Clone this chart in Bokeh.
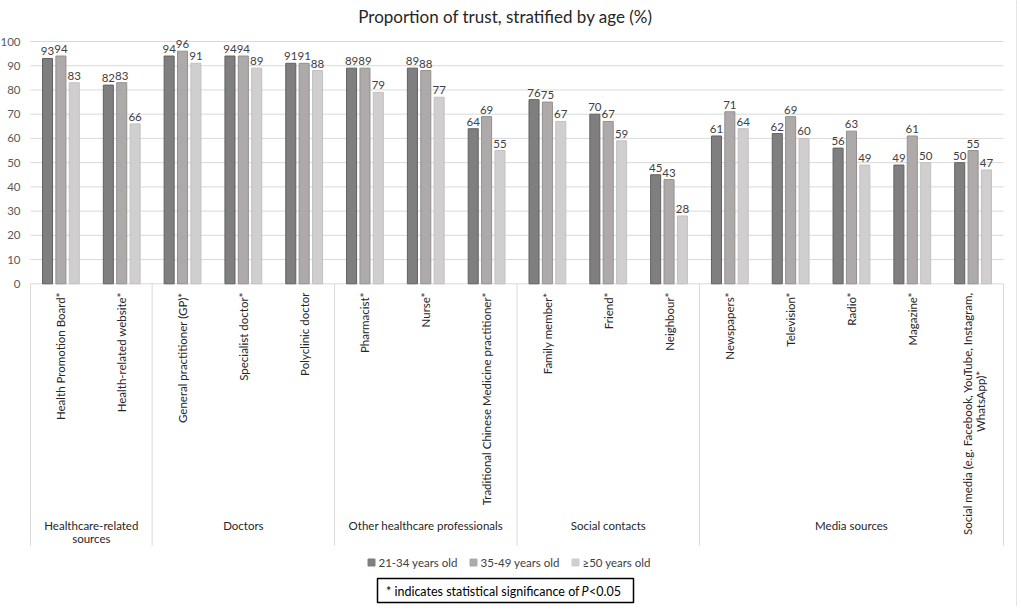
import math
from bokeh.plotting import figure
from bokeh.models import ColumnDataSource
from bokeh.core.properties import value
from bokeh.embed import file_html
from bokeh.resources import INLINE

# ---------------- data ----------------
title_text = "Proportion of trust, stratified by age (%)"
categories = [
    "Health Promotion Board*", "Health-related website*",
    "General practitioner (GP)*", "Specialist doctor*", "Polyclinic doctor",
    "Pharmacist*", "Nurse*", "Traditional Chinese Medicine practitioner*",
    "Family member*", "Friend*", "Neighbour*",
    "Newspapers*", "Television*", "Radio*", "Magazine*",
    "Social media (e.g. Facebook, YouTube, Instagram,\nWhatsApp)*",
]
groups = ["Healthcare-related\nsources", "Doctors", "Other healthcare professionals",
          "Social contacts", "Media sources"]
group_sizes = [2, 3, 3, 3, 5]
series_names = ["21-34 years old", "35-49 years old", "\u226550 years old"]
age_21_34 = [93, 82, 94, 94, 91, 89, 89, 64, 76, 70, 45, 61, 62, 56, 49, 50]
age_35_49 = [94, 83, 96, 94, 91, 89, 88, 69, 75, 67, 43, 71, 69, 63, 61, 55]
age_50_plus = [83, 66, 91, 89, 88, 79, 77, 55, 67, 59, 28, 64, 60, 49, 50, 47]
y_ticks = list(range(0, 101, 10))
note_parts = ["* indicates statistical significance of", "P", "<0.05"]

# ---------------- layout helpers ----------------
W, H = 1018, 606
PAGE_OFF = 1
PLOT_L, PLOT_R = 31.0, 1004.0
Y0_PX, PX_PER_Y = 284.3, 2.423
n = len(categories)
px_per_cat = (PLOT_R - PLOT_L) / n


def ux(xp):
    return (xp - PLOT_L) / px_per_cat


def vy(yp):
    return (Y0_PX - yp) / PX_PER_Y


FONT = value("Lato")

p = figure(width=W, height=H,
           x_range=(ux(PAGE_OFF), ux(PAGE_OFF + W)),
           y_range=(vy(PAGE_OFF + H), vy(PAGE_OFF)),
           output_backend="svg", toolbar_location=None,
           x_axis_location=None, y_axis_location=None, min_border=0)
p.grid.visible = False
p.outline_line_color = None
p.background_fill_color = "white"
p.border_fill_color = "white"

# chart border on the right
p.segment(x0=[ux(1017)], y0=[vy(0)], x1=[ux(1017)], y1=[vy(620)],
          line_color="#e3e3e3", line_width=1)

# gridlines
grid_src = ColumnDataSource(dict(x0=[ux(PLOT_L)] * len(y_ticks), x1=[ux(PLOT_R)] * len(y_ticks),
                                 y=y_ticks))
p.segment(x0="x0", y0="y", x1="x1", y1="y", source=grid_src, line_color="#d9d9d9", line_width=1)

# y tick labels
p.text(x=[ux(21)] * len(y_ticks), y=y_ticks, text=[str(t) for t in y_ticks],
       text_align="right", text_baseline="middle", text_font=FONT,
       text_font_size="11.5px", text_color="#595959")

# group separators
bounds = [0]
for s in group_sizes:
    bounds.append(bounds[-1] + s)
p.segment(x0=bounds, y0=[0] * len(bounds), x1=bounds, y1=[vy(546)] * len(bounds),
          line_color="#d9d9d9", line_width=1)

# bars
offsets = [-0.22, 0.0, 0.22]
bar_w = 0.165
fills = ["#7f7f7f", "#aeaaaa", "#d0cece"]
lines = ["#616161", "#939090", "#c2c0c0"]
series = [age_21_34, age_35_49, age_50_plus]
for vals, off, fc, lc in zip(series, offsets, fills, lines):
    xs = [i + 0.5 + off for i in range(n)]
    src = ColumnDataSource(dict(x=xs, top=vals, lab=[str(v) for v in vals]))
    p.vbar(x="x", top="top", width=bar_w, bottom=0, source=src,
           fill_color=fc, line_color=lc, line_width=1)
    p.text(x="x", y="top", text="lab", source=src, text_align="center",
           text_baseline="bottom", y_offset=-3, text_font=FONT,
           text_font_size="11.5px", text_color="#404040")

# category labels (rotated)
for i, cat in enumerate(categories):
    parts = cat.split("\n")
    if len(parts) == 1:
        p.text(x=[i + 0.5], y=[vy(293)], text=[cat], angle=math.pi / 2,
               text_align="right", text_baseline="middle", text_font=FONT,
               text_font_size="11.5px", text_color="#262626")
    else:
        p.text(x=[i + 0.5], y=[vy(293)], text=[parts[0]], angle=math.pi / 2,
               text_align="right", text_baseline="middle", x_offset=-6,
               text_font=FONT, text_font_size="11.5px", text_color="#262626")
        p.text(x=[i + 0.5], y=[vy(402)], text=[parts[1]], angle=math.pi / 2,
               text_align="center", text_baseline="middle", x_offset=7,
               text_font=FONT, text_font_size="11.5px", text_color="#262626")

# group labels
for gi, g in enumerate(groups):
    cx = (bounds[gi] + bounds[gi + 1]) / 2
    for li, line in enumerate(g.split("\n")):
        p.text(x=[cx], y=[vy(526 + 13 * li)], text=[line], text_align="center",
               text_baseline="middle", text_font=FONT, text_font_size="11.5px",
               text_color="#262626")

# title
p.text(x=[ux(506)], y=[vy(17)], text=[title_text], text_align="center",
       text_baseline="middle", text_font=FONT, text_font_size="17px",
       text_color="#262626")

# legend
leg_sq_x = [372, 474, 576]
for name, fc, sx in zip(series_names, fills, leg_sq_x):
    p.scatter(x=[ux(sx)], y=[vy(563)], marker="square", size=7, fill_color=fc,
              line_color=fc)
    p.text(x=[ux(sx + 7)], y=[vy(563)], text=[name], text_align="left",
           text_baseline="middle", text_font=FONT, text_font_size="11.5px",
           text_color="#404040")

# note box
p.quad(left=[ux(378)], right=[ux(634)], top=[vy(579)], bottom=[vy(603)],
       fill_color=None, line_color="black", line_width=1.5)
p.text(x=[ux(580)], y=[vy(591.5)], text=[note_parts[0]], text_align="right",
       text_baseline="middle", text_font=FONT, text_font_size="12.5px", text_color="black")
p.text(x=[ux(582)], y=[vy(591.5)], text=[note_parts[1]], text_align="left",
       text_baseline="middle", text_font=FONT, text_font_size="12.5px",
       text_font_style="italic", text_color="black")
p.text(x=[ux(589.5)], y=[vy(591.5)], text=[note_parts[2]], text_align="left",
       text_baseline="middle", text_font=FONT, text_font_size="12.5px", text_color="black")

open("out.html", "w").write(file_html(p, INLINE))
